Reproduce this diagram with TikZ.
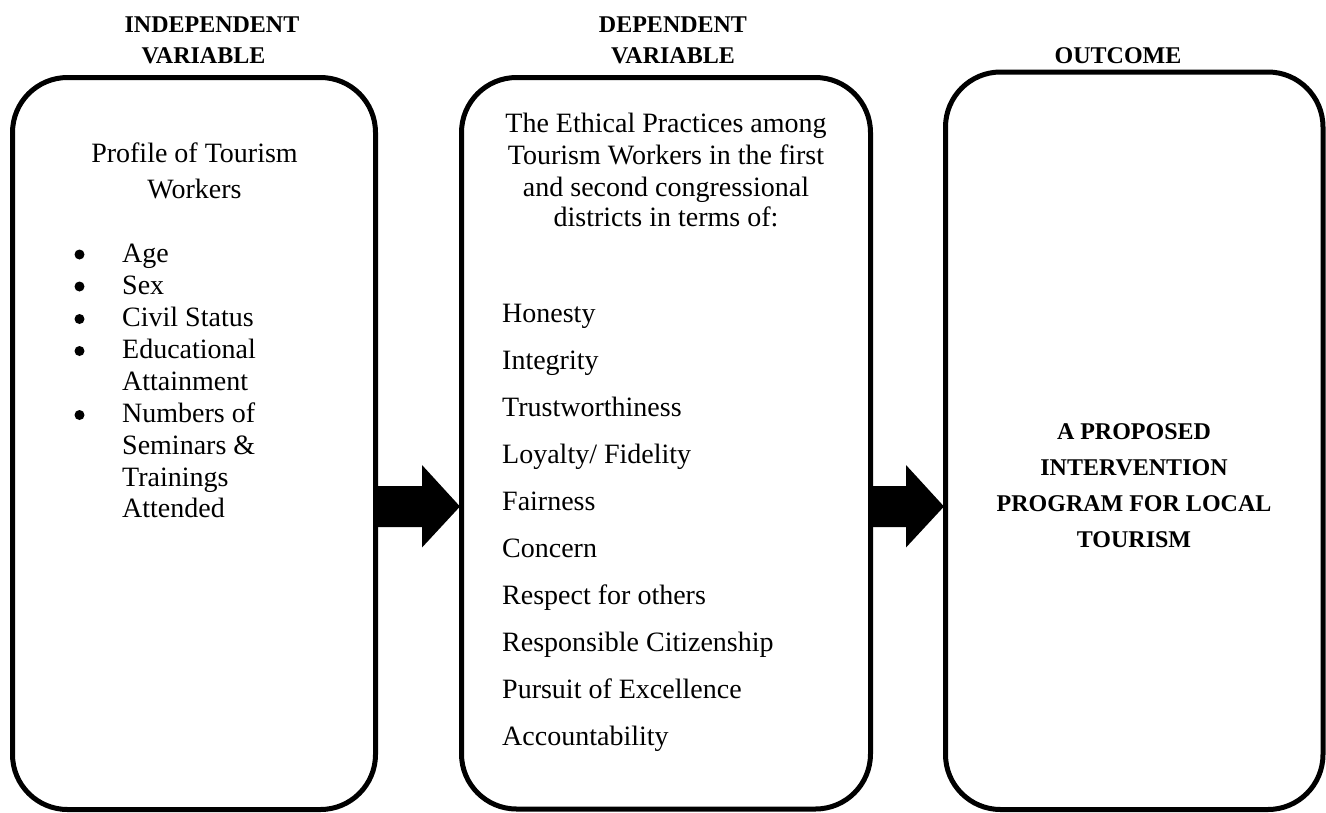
\documentclass[tikz,border=0pt]{standalone}
\usepackage{fontspec}
\setmainfont{Liberation Serif}
\usetikzlibrary{calc}
\begin{document}
\begin{tikzpicture}[x=1pt,y=-1pt,
  frame/.style={draw=black, line width=5pt, rounded corners=55pt, inner sep=0pt, outer sep=0pt},
  body/.style={inner sep=0pt, font=\fontsize{28pt}{34pt}\selectfont},
  head/.style={inner sep=0pt, font=\fontsize{24pt}{30pt}\selectfont\bfseries},
  flow/.style={fill=black, draw=none},
  dot/.style={fill=black}]
\useasboundingbox (0,0) rectangle (1326,812);

% the three columns
\node[frame, minimum width=363pt, minimum height=732pt] (iv) at (194,443.5) {};
\node[frame, minimum width=409pt, minimum height=731.5pt] (dv) at (666,443.25) {};
\node[frame, minimum width=377.5pt, minimum height=737.5pt] (oc) at (1134.25,440.75) {};

% column headings
\node[head, anchor=base] (ivh1) at (212,32) {INDEPENDENT};
\node[head, anchor=base] (ivh2) at (203.5,63) {VARIABLE};
\node[head, anchor=base] (dvh1) at (673,32) {DEPENDENT};
\node[head, anchor=base] (dvh2) at (673,63) {VARIABLE};
\node[head, anchor=base] (och1) at (1118,63) {OUTCOME};

% independent variable
\node[body, anchor=base] (ivt1) at (194.5,162) {Profile of Tourism};
\node[body, anchor=base] (ivt2) at (194.5,198) {Workers};
\foreach \txt/\y/\b [count=\i] in {Age/262/1, Sex/294/1, Civil Status/326.5/1,
    Educational/358.5/1, Attainment/390.5/0, Numbers of/422.5/1,
    Seminars \&/454.5/0, Trainings/486/0, Attended/517/0}{
  \node[body, anchor=base west] (ivl\i) at (122,\y) {\txt};
  \ifnum\b=1 \fill[dot] (79.5,\y-7.5) circle (5pt); \fi
}

% dependent variable
\node[body, anchor=base] (dvt1) at (666,132.7) {The Ethical Practices among};
\node[body, anchor=base] (dvt2) at (666,164.3) {Tourism Workers in the first};
\node[body, anchor=base] (dvt3) at (666,196) {and second congressional};
\node[body, anchor=base] (dvt4) at (666,226.7) {districts in terms of:};
\foreach \txt [count=\i from 0] in {Honesty, Integrity, Trustworthiness,
    Loyalty/ Fidelity, Fairness, Concern, Respect for others,
    Responsible Citizenship, Pursuit of Excellence, Accountability}{
  \node[body, anchor=base west] (dvl\i) at (502,322+47*\i) {\txt};
}

% outcome
\node[head, anchor=base] (oct1) at (1134,439) {A PROPOSED};
\node[head, anchor=base] (oct2) at (1134,475) {INTERVENTION};
\node[head, anchor=base] (oct3) at (1134,511) {PROGRAM FOR LOCAL};
\node[head, anchor=base] (oct4) at (1134,547) {TOURISM};

% block arrows between the columns
\coordinate (arow) at (0,506.5);
\foreach \a/\b in {iv/dv, dv/oc}{
  \fill[flow] ($(\a.east |- arow)+(0,-20.5)$)
    -- ($(\b.west |- arow)+(-39.5,-20.5)$)
    -- ($(\b.west |- arow)+(-39.5,-41.5)$)
    -- ($(\b.west |- arow)+(-1.5,0)$)
    -- ($(\b.west |- arow)+(-39.5,41)$)
    -- ($(\b.west |- arow)+(-39.5,20.5)$)
    -- ($(\a.east |- arow)+(0,20.5)$) -- cycle;
}
\end{tikzpicture}
\end{document}
